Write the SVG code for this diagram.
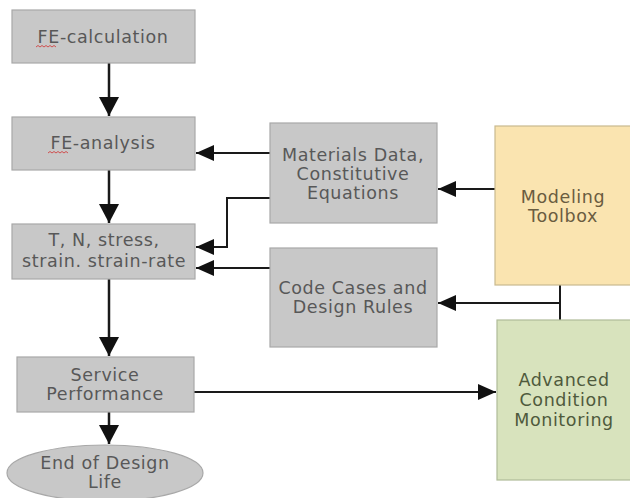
<svg xmlns="http://www.w3.org/2000/svg" width="630" height="498" viewBox="0 0 630 498">
<style>
.box{fill:#c8c8c8;stroke:#a8a8a8;stroke-width:1.2}
.tb{fill:#fae4b0;stroke:#c9b98f;stroke-width:1.2}
.ac{fill:#d8e3bd;stroke:#b0bb98;stroke-width:1.2}
.t{font-family:"DejaVu Sans",Verdana,sans-serif;font-size:17.5px;letter-spacing:0.6px;fill:#585858;text-anchor:middle}
.tt{fill:#6a5c40}
.at{fill:#4f5a3c}
.c{fill:none;stroke:#1a1a1a;stroke-width:2}
.cv{fill:none;stroke:#1a1a1a;stroke-width:2.5}
.sq{fill:none;stroke:#d03030;stroke-width:0.8}
</style>
<defs>
<marker id="ah" markerUnits="userSpaceOnUse" markerWidth="19" markerHeight="16" refX="18" refY="8" orient="auto">
<path d="M0,0 L18,8 L0,16 Z" fill="#111"/>
</marker>
<marker id="av" markerUnits="userSpaceOnUse" markerWidth="20" markerHeight="20" refX="19" refY="10" orient="auto">
<path d="M0,0 L19,10 L0,20 Z" fill="#111"/>
</marker>
</defs>
<g id="connectors">
<path class="cv" d="M109,63 V116" marker-end="url(#av)"/>
<path class="cv" d="M109,170 V223" marker-end="url(#av)"/>
<path class="cv" d="M109,279 V356" marker-end="url(#av)"/>
<path class="cv" d="M109,412 V444" marker-end="url(#av)"/>
<path class="c" d="M270,153 H196" marker-end="url(#ah)"/>
<path class="c" d="M270,198 H227 V247 H196" marker-end="url(#ah)"/>
<path class="c" d="M270,268 H196" marker-end="url(#ah)"/>
<path class="c" d="M495,189 H438" marker-end="url(#ah)"/>
<path class="c" d="M560,285 V320 M560,303 H438" marker-end="url(#ah)"/>
<path class="c" d="M194,392 H496" marker-end="url(#ah)"/>
</g>
<g id="fe-calculation">
<rect class="box" x="12" y="10" width="183" height="53"/>
<text class="t" x="103" y="43">FE-calculation</text>
<path class="sq" d="M36,47 l2,-1.5 l2,1.5 l2,-1.5 l2,1.5 l2,-1.5 l2,1.5 l2,-1.5 l2,1.5 l2,-1.5 l2,1.5"/>
</g>
<g id="fe-analysis">
<rect class="box" x="12" y="117" width="183" height="53"/>
<text class="t" x="103" y="149">FE-analysis</text>
<path class="sq" d="M48,153 l2,-1.5 l2,1.5 l2,-1.5 l2,1.5 l2,-1.5 l2,1.5 l2,-1.5 l2,1.5 l2,-1.5 l2,1.5"/>
</g>
<g id="tn-stress">
<rect class="box" x="12" y="224" width="183" height="55"/>
<text class="t" x="104" y="246">T, N, stress,</text>
<text class="t" x="104" y="267">strain. strain-rate</text>
</g>
<g id="service-performance">
<rect class="box" x="17" y="357" width="177" height="55"/>
<text class="t" x="105" y="381">Service</text>
<text class="t" x="105" y="400">Performance</text>
</g>
<g id="end-of-design-life">
<ellipse cx="105" cy="473" rx="98" ry="28" fill="#c8c8c8" stroke="#a8a8a8" stroke-width="1.2"/>
<text class="t" x="105" y="469">End of Design</text>
<text class="t" x="105" y="488">Life</text>
</g>
<g id="materials-data">
<rect class="box" x="270" y="123" width="167" height="100"/>
<text class="t" x="353" y="161">Materials Data,</text>
<text class="t" x="353" y="180">Constitutive</text>
<text class="t" x="353" y="199">Equations</text>
</g>
<g id="code-cases">
<rect class="box" x="270" y="248" width="167" height="99"/>
<text class="t" x="353" y="294">Code Cases and</text>
<text class="t" x="353" y="313">Design Rules</text>
</g>
<g id="modeling-toolbox">
<rect class="tb" x="495" y="126" width="140" height="159"/>
<text class="t tt" x="563" y="203">Modeling</text>
<text class="t tt" x="563" y="222">Toolbox</text>
</g>
<g id="advanced-condition-monitoring">
<rect class="ac" x="497" y="320" width="140" height="160"/>
<text class="t at" x="564" y="386">Advanced</text>
<text class="t at" x="564" y="406">Condition</text>
<text class="t at" x="564" y="426">Monitoring</text>
</g>
</svg>
